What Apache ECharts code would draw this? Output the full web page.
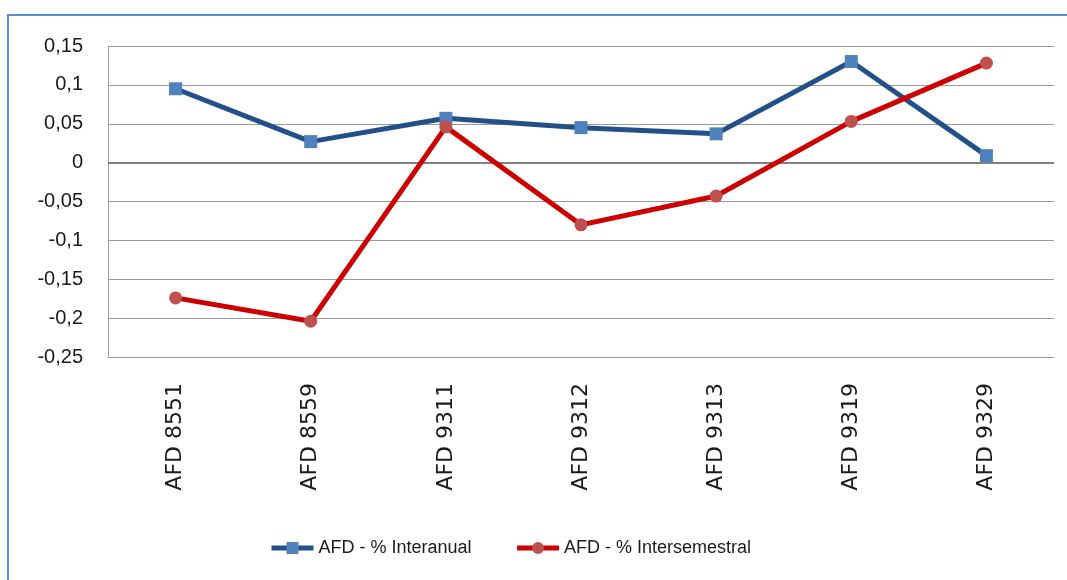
<!DOCTYPE html>
<html>
<head>
<meta charset="utf-8">
<script src="https://cdn.jsdelivr.net/npm/echarts@6/dist/echarts.min.js"></script>
<style>
html,body{margin:0;padding:0;background:#fff;}
#chart{width:1067px;height:580px;}
</style>
</head>
<body>
<div id="chart"></div>
<script>
var categories = ['AFD 8551','AFD 8559','AFD 9311','AFD 9312','AFD 9313','AFD 9319','AFD 9329'];
var interanual = [0.095, 0.027, 0.057, 0.045, 0.037, 0.130, 0.009];
var intersemestral = [-0.174, -0.204, 0.046, -0.080, -0.043, 0.053, 0.128];
var seriesNames = ['AFD - % Interanual', 'AFD - % Intersemestral'];

var chart = echarts.init(document.getElementById('chart'));
chart.setOption({
  backgroundColor: '#fff',
  animation: false,
  graphic: [{
    type: 'rect',
    shape: {x: 8, y: 15, width: 1100, height: 620},
    style: {fill: 'none', stroke: '#5B8DD6', lineWidth: 2},
    silent: true
  }],
  grid: {left: 108, right: 13, top: 46, bottom: 223},
  legend: {
    data: seriesNames,
    bottom: 18,
    left: 264,
    itemWidth: 42,
    itemHeight: 15,
    itemGap: 43,
    lineStyle: {width: 5},
    textStyle: {fontFamily: 'Liberation Sans', fontSize: 18, color: '#1a1a1a'}
  },
  xAxis: {
    type: 'category',
    data: categories,
    boundaryGap: true,
    axisLine: {show: false, onZero: false},
    axisTick: {show: false},
    axisLabel: {rotate: 90, margin: 26, fontFamily: 'DejaVu Sans', fontSize: 22, color: '#1a1a1a'}
  },
  yAxis: {
    type: 'value',
    min: -0.25, max: 0.15, interval: 0.05,
    axisLine: {show: true, lineStyle: {color: '#9a9a9a', width: 1}},
    axisTick: {show: false},
    splitLine: {show: true, lineStyle: {color: '#9a9a9a', width: 1}},
    axisLabel: {
      margin: 25, fontFamily: 'Liberation Sans', fontSize: 20, color: '#1a1a1a',
      formatter: function (v) { return String(Math.round(v * 100) / 100).replace('.', ','); }
    }
  },
  series: [{
    name: seriesNames[0],
    type: 'line',
    data: interanual,
    symbol: 'rect',
    symbolSize: 13,
    lineStyle: {color: '#24508A', width: 5},
    itemStyle: {color: '#4F81BD'},
    z: 3,
    markLine: {
      silent: true,
      symbol: ['none', 'none'],
      label: {show: false},
      lineStyle: {color: '#808080', width: 2, type: 'solid'},
      data: [{yAxis: 0}],
      z: 1
    }
  }, {
    name: seriesNames[1],
    type: 'line',
    data: intersemestral,
    symbol: 'circle',
    symbolSize: 13,
    lineStyle: {color: '#CC0000', width: 5},
    itemStyle: {color: '#C0504D'},
    z: 4
  }]
});
</script>
</body>
</html>
